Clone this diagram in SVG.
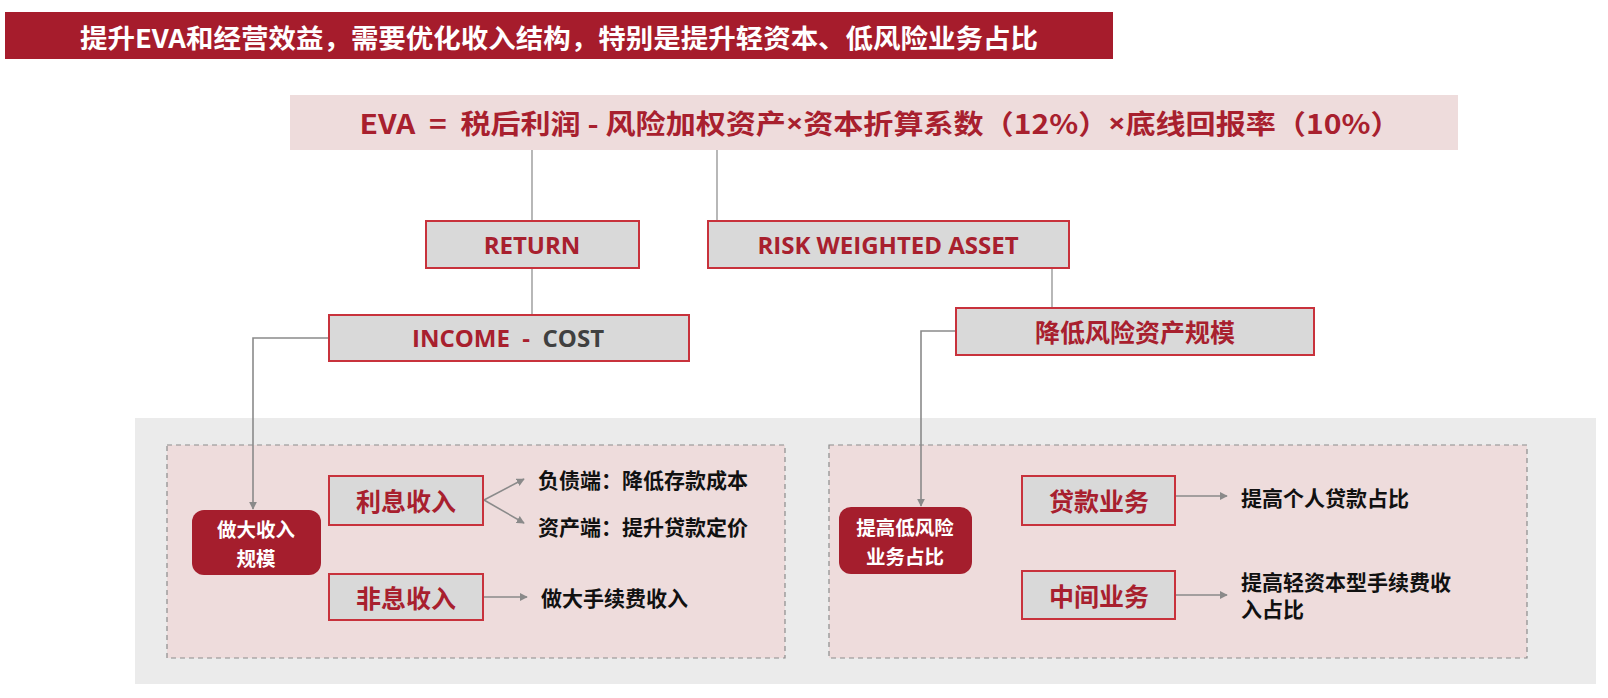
<svg xmlns="http://www.w3.org/2000/svg" width="1608" height="698" viewBox="0 0 1608 698">
<style>
.cjk{font-family:"Noto Sans CJK SC","Noto Sans",sans-serif;font-weight:bold}
.lat{font-family:"Open Sans","Noto Sans CJK SC",sans-serif;font-weight:bold}
.box{fill:#d9d9d9;stroke:#c8323c;stroke-width:2}
.red{fill:#a8202e}
.blk{fill:#111;font-size:21px}
.wt{fill:#fff;font-size:19.5px}
.rbox{fill:#a51e2d}
.conn{stroke:#a6a6a6;stroke-width:1.6;fill:none}
.arr{stroke:#8a8a8a;stroke-width:1.6;fill:none;marker-end:url(#ah)}
.dash{fill:#eedcdc;stroke:#8c8c8c;stroke-width:1.2;stroke-dasharray:5 4}
text{dominant-baseline:central;text-anchor:middle}
</style>
<defs>
<marker id="ah" viewBox="0 0 10 10" refX="9" refY="5" markerWidth="8" markerHeight="8" markerUnits="userSpaceOnUse" orient="auto"><path d="M0,0 L10,5 L0,10 z" fill="#8a8a8a"/></marker>
</defs>
<rect width="1608" height="698" fill="#fff"/>
<g id="title">
<rect x="5" y="12" width="1108" height="47" fill="#a61c2c"/>
<text x="559" y="36" class="cjk" fill="#fff" font-size="26" textLength="958" lengthAdjust="spacingAndGlyphs" font-weight="normal">提升EVA和经营效益，需要优化收入结构，特别是提升轻资本、低风险业务占比</text>
</g>
<g id="background">
<rect x="135" y="418" width="1461" height="266" fill="#ebebeb"/>
<rect class="dash" x="167" y="445" width="618" height="213"/>
<rect class="dash" x="829" y="445" width="698" height="213"/>
</g>
<g id="formula">
<rect x="290" y="95" width="1168" height="55" fill="#eedcdc"/>
<text x="880" y="122" class="cjk red" font-size="27" style="white-space:pre" textLength="1041" lengthAdjust="spacingAndGlyphs">EVA  =  税后利润 - 风险加权资产<tspan class="lat">×</tspan>资本折算系数（12%）<tspan class="lat">×</tspan>底线回报率（10%）</text>
</g>
<g id="connectors">
<line class="conn" x1="532" y1="150" x2="532" y2="221"/>
<line class="conn" x1="717" y1="150" x2="717" y2="221"/>
<line class="conn" x1="532" y1="268" x2="532" y2="315"/>
<line class="conn" x1="1052" y1="268" x2="1052" y2="308"/>
<path class="arr" d="M329,338 H253 V509"/>
<path class="arr" d="M956,331 H921 V506"/>
<line class="arr" x1="484" y1="500" x2="524" y2="479"/>
<line class="arr" x1="484" y1="500" x2="524" y2="523"/>
<line class="arr" x1="484" y1="597" x2="527" y2="597"/>
<line class="arr" x1="1176" y1="496" x2="1227" y2="496"/>
<line class="arr" x1="1176" y1="595" x2="1227" y2="595"/>
</g>
<g id="return">
<rect class="box" x="426" y="221" width="213" height="47"/>
<text x="532" y="244" class="lat red" font-size="24">RETURN</text>
</g>
<g id="rwa">
<rect class="box" x="708" y="221" width="361" height="47"/>
<text x="888" y="244" class="lat red" font-size="24">RISK WEIGHTED ASSET</text>
</g>
<g id="income-cost">
<rect class="box" x="329" y="315" width="360" height="46"/>
<text x="508" y="337" class="lat red" font-size="24" style="white-space:pre">INCOME  -  <tspan fill="#404040">COST</tspan></text>
</g>
<g id="reduce-rwa">
<rect class="box" x="956" y="308" width="358" height="47"/>
<text x="1135" y="331" class="cjk red" font-size="25">降低风险资产规模</text>
</g>
<g id="grow-income">
<rect class="rbox" x="192" y="510" width="129" height="65" rx="12"/>
<text x="256" y="528" class="cjk wt">做大收入</text>
<text x="256" y="557" class="cjk wt">规模</text>
</g>
<g id="interest">
<rect class="box" x="329" y="476" width="154" height="49"/>
<text x="406" y="500" class="cjk red" font-size="25">利息收入</text>
</g>
<g id="non-interest">
<rect class="box" x="329" y="574" width="154" height="46"/>
<text x="406" y="597" class="cjk red" font-size="25">非息收入</text>
</g>
<g id="liab">
<text x="538" y="479" class="cjk blk" style="text-anchor:start">负债端：降低存款成本</text>
</g>
<g id="asset">
<text x="538" y="526" class="cjk blk" style="text-anchor:start">资产端：提升贷款定价</text>
</g>
<g id="fee">
<text x="541" y="597" class="cjk blk" style="text-anchor:start">做大手续费收入</text>
</g>
<g id="low-risk">
<rect class="rbox" x="839" y="507" width="133" height="67" rx="12"/>
<text x="905" y="526" class="cjk wt">提高低风险</text>
<text x="905" y="555" class="cjk wt">业务占比</text>
</g>
<g id="loan">
<rect class="box" x="1022" y="476" width="153" height="49"/>
<text x="1099" y="500" class="cjk red" font-size="25">贷款业务</text>
</g>
<g id="intermediary">
<rect class="box" x="1022" y="571" width="153" height="48"/>
<text x="1099" y="595" class="cjk red" font-size="25">中间业务</text>
</g>
<g id="personal-loan">
<text x="1241" y="497" class="cjk blk" style="text-anchor:start">提高个人贷款占比</text>
</g>
<g id="fee-share">
<text x="1241" y="581" class="cjk blk" style="text-anchor:start">提高轻资本型手续费收</text>
<text x="1241" y="608" class="cjk blk" style="text-anchor:start">入占比</text>
</g>
</svg>
